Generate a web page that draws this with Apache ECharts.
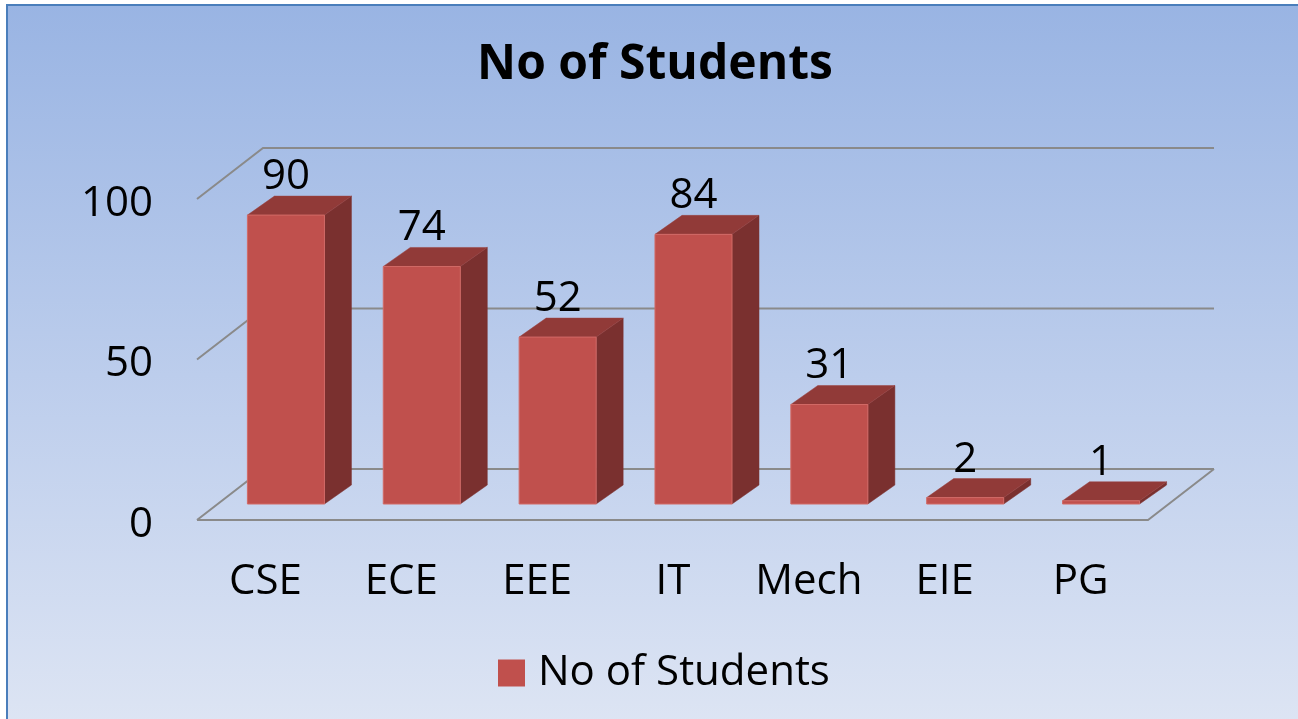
<!DOCTYPE html>
<html>
<head>
<meta charset="utf-8">
<script src="https://cdn.jsdelivr.net/npm/echarts@6/dist/echarts.min.js"></script>
<style>
html,body{margin:0;padding:0;background:#ffffff;}
#c{width:1298px;height:719px;}
</style>
</head>
<body>
<div id="c"></div>
<script>
// ---- data ----
const categories = ['CSE', 'ECE', 'EEE', 'IT', 'Mech', 'EIE', 'PG'];
const students = [90, 74, 52, 84, 31, 2, 1];
const valueTicks = [0, 50, 100];
const seriesName = 'No of Students';
const titleText = 'No of Students';

// ---- style constants ----
const FONT = '"Open Sans", "Noto Sans", sans-serif';
const FRONT = [-21, 16];   // floor front edge offset from bar front plane
const BACK = [45, -35];    // back wall offset from bar front plane
const BAR_DEPTH = [27, -19];
const GRID_COLOR = '#8a8a8a';

const chart = echarts.init(document.getElementById('c'), null, {renderer: 'canvas'});

const option = {
  animation: false,
  backgroundColor: 'transparent',
  graphic: {
    elements: [{
      type: 'rect', z: -100, silent: true,
      shape: {x: 7, y: 5, width: 1320, height: 740},
      style: {
        fill: new echarts.graphic.LinearGradient(0, 0, 0, 1, [
          {offset: 0, color: '#99b4e3'},
          {offset: 0.5, color: '#bccdec'},
          {offset: 1, color: '#dfe6f4'}
        ]),
        stroke: '#4a7ebb', lineWidth: 2
      }
    }]
  },
  title: {
    text: titleText,
    left: 655, top: 41, textAlign: 'center', padding: 0,
    textStyle: {fontFamily: FONT, fontWeight: 'bold', fontSize: 48, color: '#000'}
  },
  legend: {
    data: [seriesName],
    left: 493, top: 647,
    icon: 'rect', itemWidth: 27, itemHeight: 27,
    textStyle: {fontFamily: FONT, fontSize: 42, color: '#000', padding: [0, 0, 0, 8]}
  },
  grid: {left: 218, right: 129, top: 183, bottom: 215, containLabel: false},
  xAxis: {
    type: 'category', data: categories,
    axisLine: {show: false}, axisTick: {show: false}, splitLine: {show: false},
    axisLabel: {
      fontFamily: FONT, fontSize: 42, color: '#000',
      margin: 78, verticalAlign: 'middle', padding: [0, 41, 0, 0], interval: 0
    }
  },
  yAxis: {
    type: 'value', min: 0, max: 100, interval: 50,
    axisLine: {show: false}, axisTick: {show: false}, splitLine: {show: false},
    axisLabel: {
      fontFamily: FONT, fontSize: 42, color: '#000',
      margin: 65, align: 'right', verticalAlign: 'top'
    }
  },
  series: [
    {
      type: 'custom', name: 'walls', silent: true, z: 1,
      data: valueTicks.map(v => [0, v]),
      renderItem: function (params, api) {
        const cs = params.coordSys;
        const L = cs.x, R = cs.x + cs.width;
        const y = api.coord([0, api.value(1)])[1];
        const children = [{
          type: 'polyline',
          shape: {points: [[L + FRONT[0], y + FRONT[1]], [L + BACK[0], y + BACK[1]], [R + BACK[0], y + BACK[1]]]},
          style: {stroke: GRID_COLOR, lineWidth: 2, fill: null}
        }];
        if (api.value(1) === 0) {
          children.push({
            type: 'polyline',
            shape: {points: [[L + FRONT[0], y + FRONT[1]], [R + FRONT[0], y + FRONT[1]], [R + BACK[0], y + BACK[1]]]},
            style: {stroke: GRID_COLOR, lineWidth: 2, fill: null}
          });
        }
        return {type: 'group', children: children};
      }
    },
    {
      type: 'custom', name: seriesName, z: 3,
      itemStyle: {color: '#c0504d'},
      data: students.map((v, i) => [i, v]),
      renderItem: function (params, api) {
        const idx = api.value(0), val = api.value(1);
        const top = api.coord([idx, val]);
        const base = api.coord([idx, 0]);
        const w = api.size([1, 0])[0] * 0.567;
        const x0 = top[0] - w / 2, x1 = top[0] + w / 2;
        const yt = top[1], yb = base[1];
        const dx = BAR_DEPTH[0], dy = BAR_DEPTH[1];
        return {
          type: 'group',
          children: [
            {type: 'polygon', shape: {points: [[x1, yt], [x1 + dx, yt + dy], [x1 + dx, yb + dy], [x1, yb]]},
              style: {fill: '#7a302f', stroke: '#7a302f', lineWidth: 0.5}},
            {type: 'polygon', shape: {points: [[x0, yt], [x1, yt], [x1 + dx, yt + dy], [x0 + dx, yt + dy]]},
              style: {fill: '#913a38', stroke: '#9a4240', lineWidth: 0.5}},
            {type: 'rect', shape: {x: x0, y: yt, width: w, height: Math.max(yb - yt, 1)},
              style: {fill: '#c0504d', stroke: '#d26a66', lineWidth: 1}},
            {type: 'text', style: {
              text: String(val), x: top[0], y: yt - 38,
              align: 'center', verticalAlign: 'middle',
              font: '42px ' + FONT, fill: '#000'
            }}
          ]
        };
      }
    }
  ]
};
chart.setOption(option);
</script>
</body>
</html>
